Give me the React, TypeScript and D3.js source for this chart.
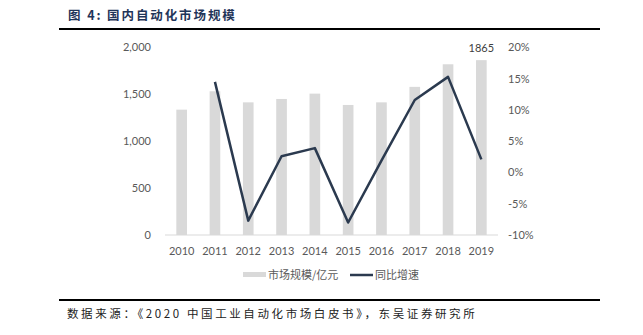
import React from "react";
import * as d3 from "d3";

const years = ["2010","2011","2012","2013","2014","2015","2016","2017","2018","2019"];
const marketSize = [1337, 1533, 1415, 1451, 1508, 1387, 1415, 1580, 1821, 1865];
const growth = [null, 14.5, -7.7, 2.6, 3.9, -8.0, 1.9, 11.6, 15.3, 2.1];
const leftTicks = [0, 500, 1000, 1500, 2000];
const rightTicks = [-10, -5, 0, 5, 10, 15, 20];

const W = 643, H = 335;
const plotL = 165, plotR = 498, plotTop = 47.5, plotBottom = 235;
const tickFont = "Lato, 'Open Sans', 'Noto Sans', sans-serif";
const cjk = "'Noto Sans CJK SC', sans-serif";

export default function App() {
  const x = d3.scaleBand<string>().domain(years).range([plotL, plotR]).paddingInner(0.68).paddingOuter(0.34);
  const yL = d3.scaleLinear().domain([0, 2000]).range([plotBottom, plotTop]);
  const yR = d3.scaleLinear().domain([-10, 20]).range([plotBottom, plotTop]);
  const pts = years.map((yv, i) => ({ yv, g: growth[i] })).filter(d => d.g !== null) as { yv: string; g: number }[];
  const line = d3.line<{ yv: string; g: number }>()
    .x(d => (x(d.yv) as number) + x.bandwidth() / 2)
    .y(d => yR(d.g));
  const last = years.length - 1;
  return (
    <svg width={W} height={H} style={{ position: "absolute", left: 0, top: 0, background: "#fff" }}>
      <text x={68} y={20} fontFamily={cjk} fontWeight="bold" fontSize={12.5} fill="#1f3559" letterSpacing={1.9}>图 4:  国内自动化市场规模</text>
      <line x1={59} x2={600} y1={29} y2={29} stroke="#000" strokeWidth={2} />
      {years.map((yv, i) => (
        <rect key={yv} x={x(yv)} y={yL(marketSize[i])} width={x.bandwidth()} height={plotBottom - yL(marketSize[i])} fill="#d9d9d9" />
      ))}
      <line x1={plotL} x2={plotR} y1={plotBottom} y2={plotBottom} stroke="#d9d9d9" strokeWidth={1} />
      <path d={line(pts) || ""} fill="none" stroke="#2b3a4f" strokeWidth={2.5} strokeLinejoin="round" />
      <text x={(x(years[last]) as number) + x.bandwidth() / 2} y={yL(marketSize[last]) - 8} textAnchor="middle" fontFamily={tickFont} fontSize={11} fill="#404040">{marketSize[last]}</text>
      {leftTicks.map(t => (
        <text key={t} x={151} y={yL(t)} dy="0.35em" textAnchor="end" fontFamily={tickFont} fontSize={11} fill="#595959">{d3.format(",")(t)}</text>
      ))}
      {rightTicks.map(t => (
        <text key={t} x={508} y={yR(t)} dy="0.35em" textAnchor="start" fontFamily={tickFont} fontSize={11} fill="#595959">{t + "%"}</text>
      ))}
      {years.map(yv => (
        <text key={yv} x={(x(yv) as number) + x.bandwidth() / 2} y={251} dy="0.35em" textAnchor="middle" fontFamily={tickFont} fontSize={11} fill="#595959">{yv}</text>
      ))}
      <rect x={243} y={272} width={23} height={5} fill="#d9d9d9" />
      <text x={268} y={275} dy="0.35em" fontFamily={cjk} fontSize={11} fill="#595959">市场规模/亿元</text>
      <line x1={350} x2={373} y1={275} y2={275} stroke="#2b3a4f" strokeWidth={2.5} />
      <text x={375} y={275} dy="0.35em" fontFamily={cjk} fontSize={11} fill="#595959">同比增速</text>
      <line x1={59} x2={600} y1={300} y2={300} stroke="#000" strokeWidth={2} />
      <text x={67} y={318} fontFamily={cjk} fontSize={11.5} fill="#222" letterSpacing={2.6}>数据来源：《2020 中国工业自动化市场白皮书》，东吴证券研究所</text>
    </svg>
  );
}
